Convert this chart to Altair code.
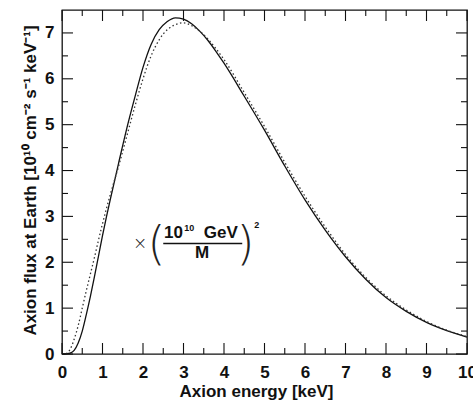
import altair as alt
import pandas as pd

# Axion energy grid [keV] shared by both spectra
energy = [0, 0.1, 0.2, 0.3, 0.4, 0.5, 0.6, 0.7, 0.8, 0.9, 1.0, 1.1, 1.2,
          1.4, 1.6, 1.8, 2.0, 2.2, 2.4, 2.6, 2.8, 3.0, 3.2, 3.4, 3.6, 3.8,
          4.0, 4.5, 5.0, 5.5, 6.0, 6.5, 7.0, 7.5, 8.0, 8.5, 9.0, 9.5, 10.0]

# Flux at Earth [10^10 cm^-2 s^-1 keV^-1], full calculation (solid)
flux_solid = [0, 0.005, 0.02, 0.08, 0.24, 0.5, 0.86, 1.25, 1.68, 2.13, 2.58,
              3.0, 3.4, 4.17, 4.92, 5.6, 6.25, 6.75, 7.07, 7.25, 7.33, 7.30,
              7.2, 7.04, 6.84, 6.6, 6.34, 5.62, 4.88, 4.1, 3.36, 2.7, 2.12,
              1.63, 1.23, 0.93, 0.69, 0.51, 0.37]

# Approximate spectrum (dotted)
flux_dotted = [0, 0.01, 0.1, 0.32, 0.62, 1.0, 1.38, 1.74, 2.1, 2.48, 2.84,
               3.18, 3.5, 4.1, 4.75, 5.4, 6.0, 6.5, 6.85, 7.07, 7.18, 7.22,
               7.16, 7.04, 6.87, 6.66, 6.42, 5.7, 4.96, 4.18, 3.44, 2.77,
               2.17, 1.67, 1.27, 0.96, 0.71, 0.52, 0.38]

x_major = list(range(0, 11))
x_minor = [i + 0.5 for i in range(0, 10)]
y_major = list(range(0, 8))
y_minor = [i + 0.5 for i in range(0, 7)]

# Scaling factor annotation: pieces of the formula
ann_text = ["×", "(", "10", "10", "GeV", "M", ")", "2"]
ann_x = [1.93, 2.33, 2.75, 3.14, 3.92, 3.46, 4.53, 4.81]
ann_y = [2.40, 2.37, 2.63, 2.75, 2.63, 2.20, 2.37, 2.82]
ann_size = [17, 46, 17, 9, 17, 17, 46, 9]
ann_weight = ["light", "light", "bold", "bold", "bold", "bold", "light", "bold"]
bar_x = [2.50]
bar_x2 = [4.45]
bar_y = [2.41]

W, H = 405, 344
FONT = "Liberation Sans"

x_scale = alt.Scale(domain=[0, 10], nice=False)
y_scale = alt.Scale(domain=[0, 7.5], nice=False)

x_axis = alt.Axis(values=x_major, ticks=False, domain=False, grid=False,
                  labelFont=FONT, labelFontSize=17, labelFontWeight="bold",
                  labelColor="#111", labelPadding=10, labelFlush=False,
                  title="Axion energy [keV]", titleFont=FONT, titleFontSize=17,
                  titleFontWeight="bold", titleColor="#111",
                  titleX=194, titleY=29, titleBaseline="top")
y_axis = alt.Axis(values=y_major, ticks=False, domain=False, grid=False,
                  labelFont=FONT, labelFontSize=17, labelFontWeight="bold",
                  labelColor="#111", labelPadding=8, labelFlush=False,
                  title="Axion flux at Earth [10¹⁰ cm⁻² s⁻¹ keV⁻¹]",
                  titleFont=FONT, titleFontSize=17, titleFontWeight="bold",
                  titleColor="#111", titleAngle=-90, titleX=-27, titleY=170,
                  titleBaseline="alphabetic", titleAlign="center")

df = pd.DataFrame({"E": energy, "solid": flux_solid, "dotted": flux_dotted})

solid = alt.Chart(df).mark_line(color="#111", strokeWidth=1.3,
                                interpolate="monotone").encode(
    x=alt.X("E:Q", scale=x_scale, axis=x_axis),
    y=alt.Y("solid:Q", scale=y_scale, axis=y_axis),
)
dotted = alt.Chart(df).mark_line(color="#333", strokeWidth=1.3,
                                 strokeDash=[1.5, 2.5],
                                 interpolate="monotone").encode(
    x=alt.X("E:Q", scale=x_scale),
    y=alt.Y("dotted:Q", scale=y_scale),
)

# Inward tick marks on all four sides of the frame
def xticks(vals, length):
    d = pd.DataFrame({"v": vals})
    bottom = alt.Chart(d).mark_rule(color="#111", strokeWidth=1.1).encode(
        x=alt.X("v:Q", scale=x_scale), y=alt.value(H), y2=alt.value(H - length))
    top = alt.Chart(d).mark_rule(color="#111", strokeWidth=1.1).encode(
        x=alt.X("v:Q", scale=x_scale), y=alt.value(0), y2=alt.value(length))
    return bottom + top

def yticks(vals, length):
    d = pd.DataFrame({"v": vals})
    left = alt.Chart(d).mark_rule(color="#111", strokeWidth=1.1).encode(
        y=alt.Y("v:Q", scale=y_scale), x=alt.value(0), x2=alt.value(length))
    right = alt.Chart(d).mark_rule(color="#111", strokeWidth=1.1).encode(
        y=alt.Y("v:Q", scale=y_scale), x=alt.value(W), x2=alt.value(W - length))
    return left + right

ann_df = pd.DataFrame({"t": ann_text, "x": ann_x, "y": ann_y,
                       "s": ann_size, "w": ann_weight})
ann_bold = alt.Chart(ann_df[ann_df.w == "bold"]).mark_text(
    font=FONT, fontWeight="bold", color="#111", align="center",
    baseline="middle").encode(
    x=alt.X("x:Q", scale=x_scale), y=alt.Y("y:Q", scale=y_scale),
    text="t:N", size=alt.Size("s:Q", scale=None, legend=None))
ann_light = alt.Chart(ann_df[ann_df.w == "light"]).mark_text(
    font="DejaVu Sans", fontWeight=200, color="#222", align="center",
    baseline="middle").encode(
    x=alt.X("x:Q", scale=x_scale), y=alt.Y("y:Q", scale=y_scale),
    text="t:N", size=alt.Size("s:Q", scale=None, legend=None))
bar = alt.Chart(pd.DataFrame({"x": bar_x, "x2": bar_x2, "y": bar_y})).mark_rule(
    color="#111", strokeWidth=1.6).encode(
    x=alt.X("x:Q", scale=x_scale), x2="x2:Q", y=alt.Y("y:Q", scale=y_scale))

chart = alt.layer(
    solid, dotted,
    xticks(x_major, 11), xticks(x_minor, 6),
    yticks(y_major, 11), yticks(y_minor, 6),
    bar, ann_bold, ann_light,
).properties(
    width=W, height=H,
    autosize=alt.AutoSizeParams(type="none"),
    padding={"left": 62, "top": 10, "right": 6, "bottom": 47},
    background="white",
).configure_view(stroke="#111", strokeWidth=1.3)

chart.save("out.html", embed_options={"renderer": "svg", "actions": False})
